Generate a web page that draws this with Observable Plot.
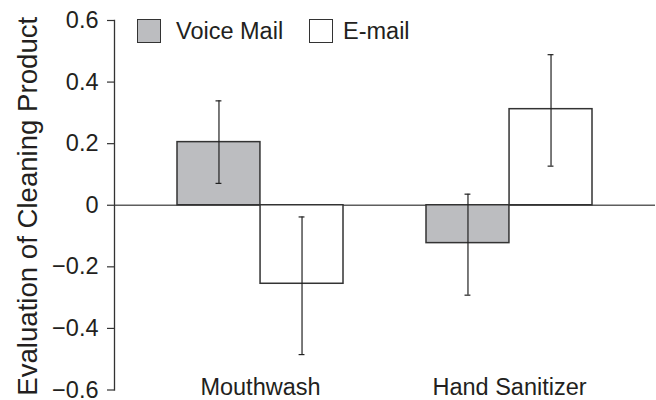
<!DOCTYPE html>
<html>
<head>
<meta charset="utf-8">
<script src="https://cdn.jsdelivr.net/npm/d3@7"></script>
<script src="https://cdn.jsdelivr.net/npm/@observablehq/plot@0.6"></script>
<style>
  html, body { margin: 0; padding: 0; background: #fff; }
  #wrap { position: relative; width: 656px; height: 400px; font-family: "Liberation Sans", Arial, Helvetica, sans-serif; color: #231f20; }
  #wrap svg { display: block; }
  .leg { position: absolute; top: 19px; height: 24px; display: flex; align-items: center; font-size: 23.5px; line-height: 24px; white-space: nowrap; }
  .sw { width: 24px; height: 24px; box-sizing: border-box; border: 1.5px solid #333; margin-right: 15px; }
</style>
</head>
<body>
<div id="wrap"></div>
<script>
// ---- data ----
const categories = ["Mouthwash", "Hand Sanitizer"];
const seriesNames = ["Voice Mail", "E-mail"];
const seriesFills = ["#bcbdc0", "#ffffff"];

const rowCategory = ["Mouthwash", "Mouthwash", "Hand Sanitizer", "Hand Sanitizer"];
const rowSeries   = ["Voice Mail", "E-mail", "Voice Mail", "E-mail"];
const rowMean     = [0.205, -0.255, -0.123, 0.312];
const rowLower    = [0.071, -0.485, -0.292, 0.127];
const rowUpper    = [0.339, -0.038, 0.036, 0.489];

const yTicks      = [-0.6, -0.4, -0.2, 0, 0.2, 0.4, 0.6];
const yTickLabels = ["\u22120.6", "\u22120.4", "\u22120.2", "0", "0.2", "0.4", "0.6"];
const yTitle = "Evaluation of Cleaning Product";

// ---- build table ----
const rows = rowCategory.map((c, i) => ({
  category: c, series: rowSeries[i], mean: rowMean[i], lower: rowLower[i], upper: rowUpper[i]
}));

const W = 656, H = 400;
const mL = 114, mR = 1, mT = 20, mB = 10.5;
const xOpts = { type: "band", domain: categories, range: [mL, W - mR], paddingInner: 0.334, paddingOuter: 0.2515, axis: null };
const bw = Plot.scale({ x: xOpts }).bandwidth;
const half = bw / 2;

const font = "'Liberation Sans', Arial, Helvetica, sans-serif";
const ink = "#231f20";

const marks = [
  Plot.ruleY([0], { stroke: "#5e5e5e", strokeWidth: 1.6 })
];

seriesNames.forEach((s, k) => {
  const d = rows.filter(r => r.series === s);
  const dx = k === 0 ? -bw / 4 : bw / 4;
  marks.push(
    Plot.barY(d, {
      x: "category", y: "mean",
      fill: seriesFills[k], stroke: "#333", strokeWidth: 1.5,
      insetLeft: k === 0 ? 0 : half, insetRight: k === 0 ? half : 0
    }),
    Plot.ruleX(d, { x: "category", y1: "lower", y2: "upper", dx, stroke: "#222", strokeWidth: 1.2 }),
    Plot.tickY(d, { x: "category", y: "upper", dx, stroke: "#222", strokeWidth: 1.2, insetLeft: half - 3, insetRight: half - 3 }),
    Plot.tickY(d, { x: "category", y: "lower", dx, stroke: "#222", strokeWidth: 1.2, insetLeft: half - 3, insetRight: half - 3 })
  );
});

marks.push(
  Plot.frame({ anchor: "left", stroke: "#333", strokeWidth: 1.3 }),
  Plot.axisY({
    ticks: yTicks,
    tickFormat: v => yTickLabels[yTicks.indexOf(v)],
    tickSize: 7, tickPadding: 9, fontSize: 23.5,
    stroke: "#333", strokeWidth: 1.2, fill: ink,
    label: null
  }),
  Plot.text([yTitle], {
    text: d => d, frameAnchor: "left", textAnchor: "middle", rotate: -90, dx: -86, dy: 1,
    fontSize: 27.6, fill: ink
  }),
  Plot.text(categories, {
    x: d => d, text: d => d, frameAnchor: "bottom", dy: 5,
    fontSize: 23.5, fill: ink
  })
);

const chart = Plot.plot({
  width: W, height: H,
  marginLeft: mL, marginRight: mR, marginTop: mT, marginBottom: mB,
  style: { fontFamily: font, color: ink, background: "#fff", overflow: "visible" },
  x: xOpts,
  y: { domain: [-0.6, 0.6], axis: null },
  marks
});

const wrap = document.getElementById("wrap");
wrap.appendChild(chart);

// legend (inside the plot area, as in the reference)
const legendLeft = [137, 309];
seriesNames.forEach((s, k) => {
  const item = document.createElement("div");
  item.className = "leg";
  item.style.left = legendLeft[k] + "px";
  const sw = document.createElement("div");
  sw.className = "sw";
  sw.style.background = seriesFills[k];
  if (k === 1) sw.style.marginRight = "10px";
  const t = document.createElement("span");
  t.textContent = s;
  item.appendChild(sw);
  item.appendChild(t);
  wrap.appendChild(item);
});
</script>
</body>
</html>
